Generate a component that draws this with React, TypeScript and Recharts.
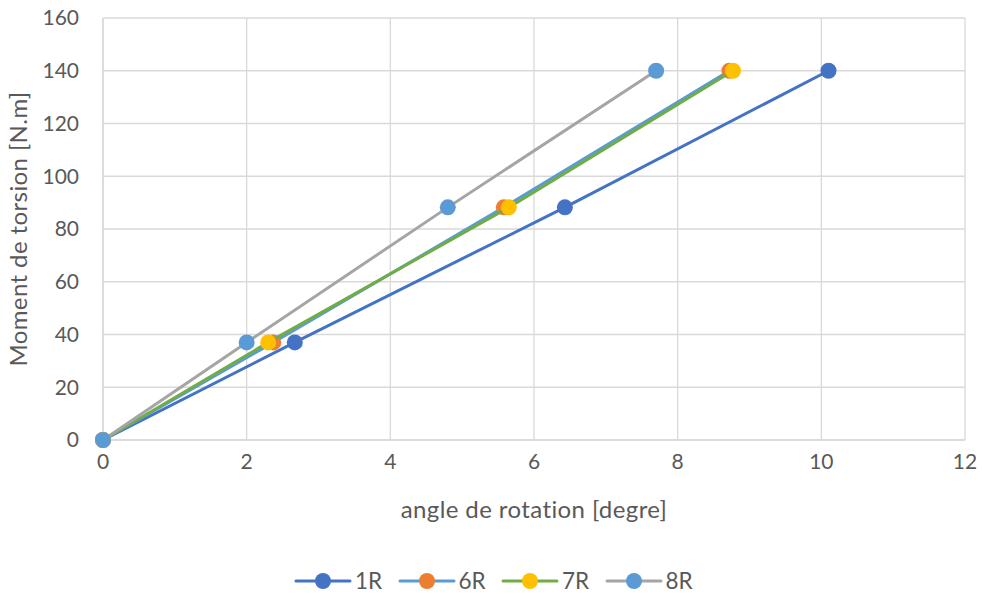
import React from 'react';
import {
  ScatterChart, Scatter, XAxis, YAxis, CartesianGrid, Label
} from 'recharts';

const moments = [0, 37, 88.2, 140];
const angles1R = [0, 2.67, 6.43, 10.1];
const angles6R = [0, 2.37, 5.58, 8.72];
const angles7R = [0, 2.3, 5.65, 8.77];
const angles8R = [0, 2.0, 4.8, 7.7];
const xTicks = [0, 2, 4, 6, 8, 10, 12];
const yTicks = [0, 20, 40, 60, 80, 100, 120, 140, 160];

const toPoints = (angles: number[]) => angles.map((a, i) => ({ x: a, y: moments[i] }));

const series = [
  { name: '1R', data: toPoints(angles1R), line: '#4472C4', marker: '#4472C4' },
  { name: '6R', data: toPoints(angles6R), line: '#5B9BD5', marker: '#ED7D31' },
  { name: '7R', data: toPoints(angles7R), line: '#70AD47', marker: '#FFC000' },
  { name: '8R', data: toPoints(angles8R), line: '#A5A5A5', marker: '#5B9BD5' },
];

const font = 'Lato, Carlito, Calibri, sans-serif';
const textColor = '#595959';

const dot = (color: string) => (props: any) => (
  <circle cx={props.cx} cy={props.cy} r={8} fill={color} />
);

export default function App() {
  return (
    <div style={{ position: 'absolute', left: 0, top: 0, width: 982, height: 595, background: '#fff', fontFamily: font }}>
      <ScatterChart width={982} height={595} margin={{ top: 18, right: 17, left: 0, bottom: 65 }}>
        <CartesianGrid stroke="#d9d9d9" strokeWidth={1.3} />
        <XAxis
          type="number"
          dataKey="x"
          domain={[0, 12]}
          ticks={xTicks}
          tickLine={false}
          axisLine={{ stroke: '#d9d9d9', strokeWidth: 1.3 }}
          tick={{ fill: textColor, fontSize: 21, fontFamily: font }}
          tickMargin={8}
          height={90}
        >
          <Label value="angle de rotation [degre]" position="insideBottom" offset={12}
            style={{ fill: textColor, fontSize: 24, letterSpacing: 0.4, fontFamily: font }} />
        </XAxis>
        <YAxis
          type="number"
          dataKey="y"
          domain={[0, 160]}
          ticks={yTicks}
          tickLine={false}
          axisLine={{ stroke: '#d9d9d9', strokeWidth: 1.3 }}
          tick={{ fill: textColor, fontSize: 21, fontFamily: font }}
          tickMargin={18}
          width={103}
        >
          <Label value="Moment de torsion [N.m]" angle={-90} position="insideLeft" offset={18}
            style={{ fill: textColor, fontSize: 24, letterSpacing: 0.4, fontFamily: font, textAnchor: 'middle' }} />
        </YAxis>
        {series.map(s => (
          <Scatter
            key={s.name}
            name={s.name}
            data={s.data}
            fill={s.marker}
            line={{ stroke: s.line, strokeWidth: 3 }}
            lineType="joint"
            shape={dot(s.marker)}
            isAnimationActive={false}
          />
        ))}
      </ScatterChart>
      {series.map((s, i) => (
        <div key={s.name} style={{ position: 'absolute', top: 571, left: 294 + i * 103.5, display: 'flex', alignItems: 'center' }}>
          <svg width={58} height={20}>
            <line x1={2} y1={10} x2={56} y2={10} stroke={s.line} strokeWidth={3} strokeLinecap="round" />
            <circle cx={29} cy={10} r={8} fill={s.marker} />
          </svg>
          <span style={{ color: textColor, fontSize: 22.5, marginLeft: 3, lineHeight: '20px' }}>{s.name}</span>
        </div>
      ))}
    </div>
  );
}
